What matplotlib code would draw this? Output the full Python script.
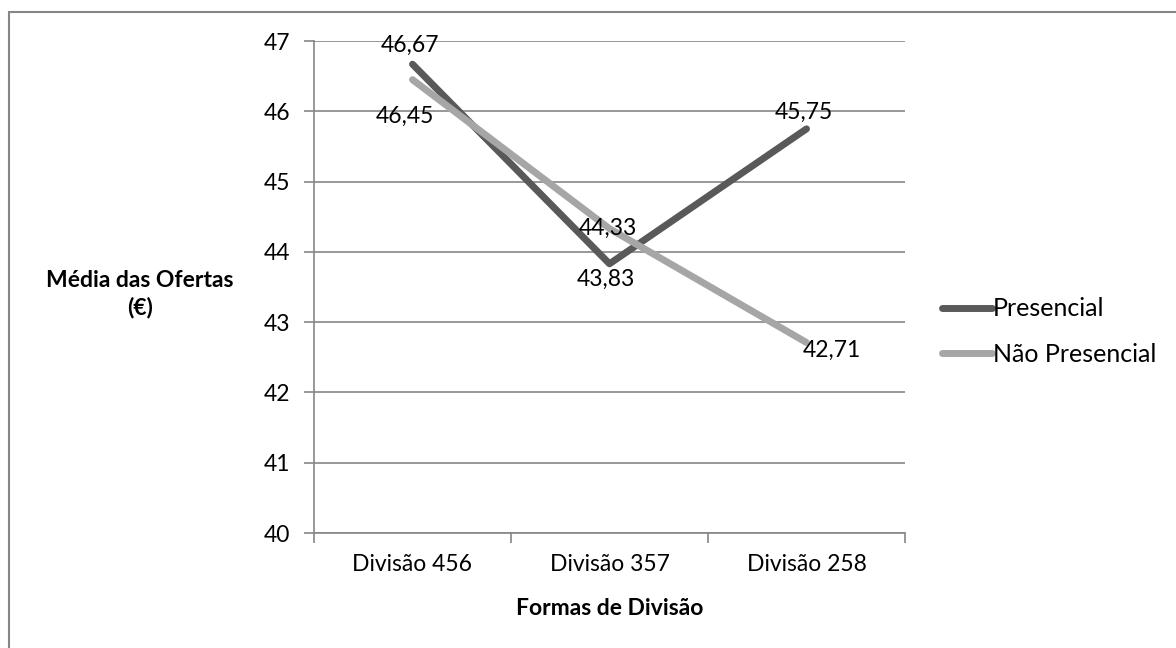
import matplotlib.pyplot as plt
from matplotlib.patches import Rectangle

categories = ['Divisão 456', 'Divisão 357', 'Divisão 258']
presencial = [46.67, 43.83, 45.75]
nao_presencial = [46.45, 44.33, 42.71]

# label offsets in pixels, one per point
off_pres = [(-3, 19), (-4, -16), (-3, 17)]
off_nao = [(-8, -37), (-2, 0), (25, -8)]

plt.rcParams['font.family'] = ['Lato', 'DejaVu Sans']
FS = 16.5
GRID = '#868686'

fig = plt.figure(figsize=(11.76, 6.48), dpi=100)
ax = fig.add_axes([314 / 1176, 1 - 533 / 648, (905 - 314) / 1176, (533 - 41) / 648])

x = list(range(len(categories)))
ax.plot(x, presencial, color='#595959', lw=5, solid_capstyle='round', label='Presencial', zorder=3)
ax.plot(x, nao_presencial, color='#a6a6a6', lw=5, solid_capstyle='round', label='Não Presencial', zorder=4)

def fmt(v):
    return f'{v:.2f}'.replace('.', ',')

for xi, v, o in zip(x, presencial, off_pres):
    ax.annotate(fmt(v), (xi, v), xytext=o, textcoords='offset pixels',
                ha='center', va='center', fontsize=FS, zorder=6)
for xi, v, o in zip(x, nao_presencial, off_nao):
    ax.annotate(fmt(v), (xi, v), xytext=o, textcoords='offset pixels',
                ha='center', va='center', fontsize=FS, zorder=6)

ax.set_xlim(-0.5, len(categories) - 0.5)
ax.set_ylim(40, 47)
ax.set_yticks(range(40, 48))
ax.yaxis.grid(True, color=GRID, lw=1.2)
ax.set_axisbelow(True)

# category boundaries get the tick marks, names sit between them
ax.set_xticks([i - 0.5 for i in range(len(categories) + 1)])
ax.set_xticklabels([])
ax.set_xticks(x, minor=True)
ax.set_xticklabels(categories, minor=True, fontsize=FS)
ax.tick_params(axis='x', which='minor', length=0, pad=15)
ax.tick_params(axis='x', which='major', length=7, width=1.2, color=GRID)
ax.tick_params(axis='y', length=7, width=1.2, color=GRID, labelsize=FS, pad=10)

for s in ['top', 'right']:
    ax.spines[s].set_visible(False)
for s in ['left', 'bottom']:
    ax.spines[s].set_color(GRID)
    ax.spines[s].set_linewidth(1.2)

ax.set_xlabel('Formas de Divisão', fontsize=FS, fontweight='bold', labelpad=17)
fig.text(140 / 1176, 1 - 294 / 648, 'Média das Ofertas\n(€)', fontsize=FS, fontweight='bold',
         ha='center', va='center', multialignment='center', linespacing=1.35)

fig.legend(loc='center left', bbox_to_anchor=(942 / 1176, 1 - 331.5 / 648), frameon=False,
           fontsize=18, handlelength=2.0, handletextpad=0.05, borderpad=0, borderaxespad=0,
           labelspacing=0.9)

# chart area border
fig.patches.append(Rectangle((9 / 1176, -0.1), 1.2, 1 - 11.5 / 648 + 0.1, transform=fig.transFigure,
                             fill=False, edgecolor=GRID, lw=1.5, zorder=0))

fig.savefig('out.png', dpi=100)
